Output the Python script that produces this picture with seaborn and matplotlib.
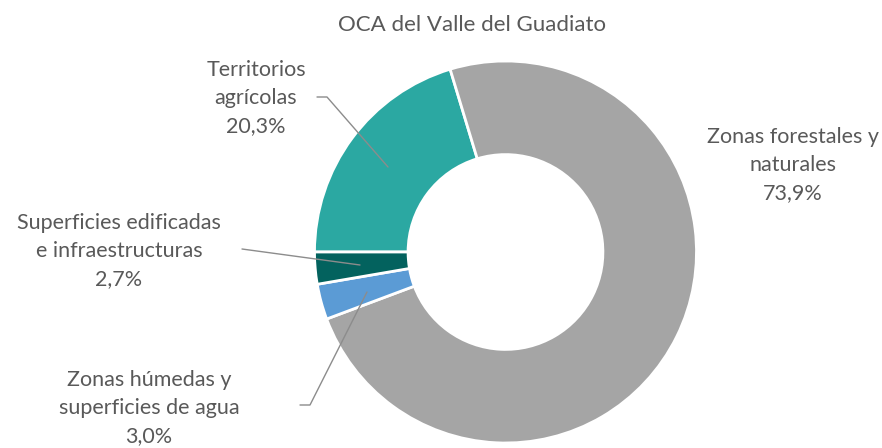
import matplotlib
matplotlib.use("Agg")
import matplotlib.pyplot as plt
import seaborn as sns

# ---- data ----
categories = ["Territorios agrícolas", "Zonas forestales y naturales",
              "Zonas húmedas y superficies de agua",
              "Superficies edificadas e infraestructuras"]
label_text = ["Territorios\nagrícolas", "Zonas forestales y\nnaturales",
              "Zonas húmedas y\nsuperficies de agua",
              "Superficies edificadas\ne infraestructuras"]
values = [20.3, 73.9, 3.0, 2.7]
colors = ["#2BA8A2", "#A5A5A5", "#5B9BD5", "#03625E"]
title = "OCA del Valle del Guadiato"

sns.set_theme(style="white")
plt.rcParams["font.family"] = ["Lato", "DejaVu Sans"]

W, H = 882, 448
fig = plt.figure(figsize=(W / 100, H / 100), dpi=100)
ax = fig.add_axes([0, 0, 1, 1])
ax.set_xlim(0, W)
ax.set_ylim(0, H)
ax.set_aspect("equal")
ax.axis("off")

def py(y):
    return H - y

cx, cy, R = 505.5, 252, 191
ax.pie(values, colors=colors, startangle=180, counterclock=False,
       center=(cx, py(cy)), radius=R,
       wedgeprops=dict(width=R * 0.49, edgecolor="white", linewidth=2))
ax.set_xlim(0, W)
ax.set_ylim(0, H)

txt_col = "#595959"
fs = 15.5
pct = [f"{v:.1f}".replace(".", ",") + "%" for v in values]
label_pos = [(256, 98), (793, 165), (149, 408), (119, 251)]
for t, p, (x, y) in zip(label_text, pct, label_pos):
    ax.text(x, py(y), t + "\n" + p, ha="center", va="center", fontsize=fs,
            color=txt_col, linespacing=1.5)

line_col = "#8C8C8C"
leaders = [
    [(317, 97), (327, 97), (388, 167)],
    None,
    [(300, 405), (310, 405), (367, 292)],
    [(242, 249), (360, 265)],
]
for seg in leaders:
    if seg:
        xs = [p[0] for p in seg]
        ys = [py(p[1]) for p in seg]
        ax.plot(xs, ys, color=line_col, lw=1)

ax.text(472, py(25), title, ha="center", va="center", fontsize=16, color=txt_col)

fig.savefig("out.png", dpi=100)
